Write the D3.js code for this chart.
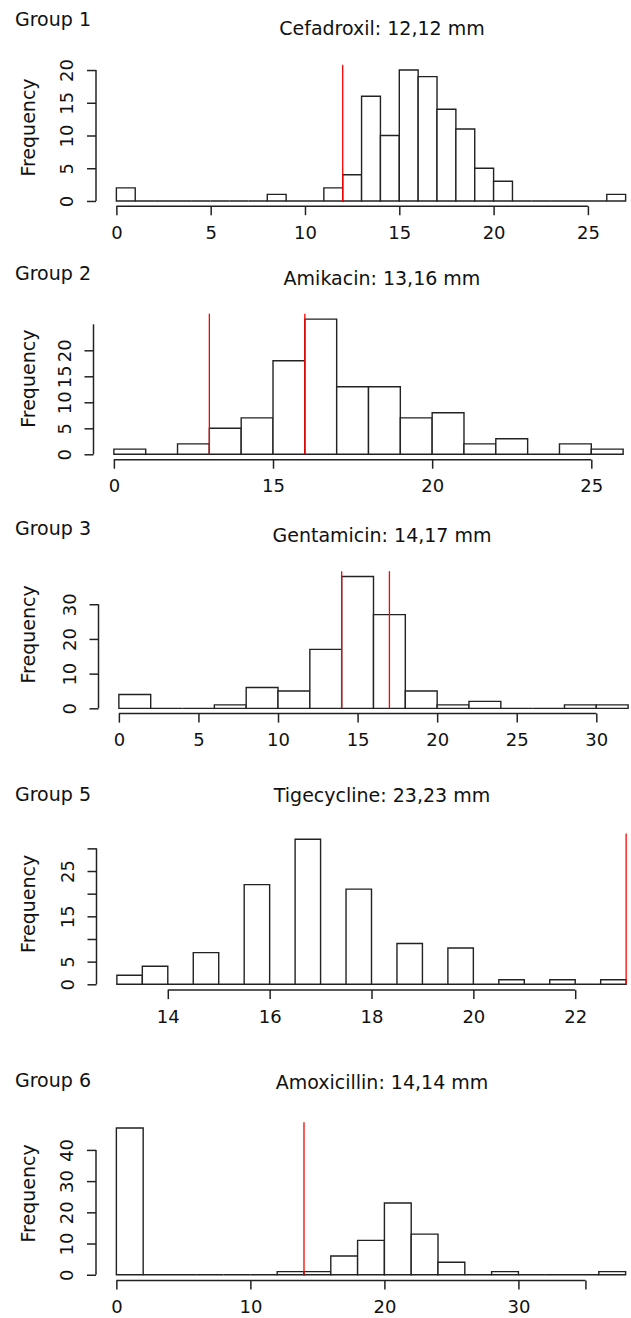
<!DOCTYPE html>
<html>
<head>
<meta charset="utf-8">
<script src="https://cdn.jsdelivr.net/npm/d3@7/dist/d3.min.js"></script>
<style>
  body { margin: 0; background: #fff; }
  svg text { font-family: "DejaVu Sans", sans-serif; fill: #111; }
</style>
</head>
<body>
<svg id="chart" width="631" height="1318"></svg>
<script>
// ---- data ----
const groupNames = ['Group 1', 'Group 2', 'Group 3', 'Group 5', 'Group 6']
const drugTitles = [
  'Cefadroxil: 12,12 mm',
  'Amikacin: 13,16 mm',
  'Gentamicin: 14,17 mm',
  'Tigecycline: 23,23 mm',
  'Amoxicillin: 14,14 mm',
]
const binStart = [0, 10, 0, 13, 0]
const binWidth = [1, 1, 2, 0.5, 2]

const countsCefadroxil = [2, 0, 0, 0, 0, 0, 0, 0, 1, 0, 0, 2, 4, 16, 10, 20, 19, 14, 11, 5, 3, 0, 0, 0, 0, 0, 1]
const countsAmikacin = [1, 0, 2, 5, 7, 18, 26, 13, 13, 7, 8, 2, 3, 0, 2, 1]
const countsGentamicin = [4, 0, 0, 1, 6, 5, 17, 38, 27, 5, 1, 2, 0, 0, 1, 1]
const countsTigecycline = [2, 4, 0, 7, 0, 22, 0, 32, 0, 21, 0, 9, 0, 8, 0, 1, 0, 1, 0, 1]
const countsAmoxicillin = [47, 0, 0, 0, 0, 0, 1, 1, 6, 11, 23, 13, 4, 0, 1, 0, 0, 0, 1]
const allCounts = [countsCefadroxil, countsAmikacin, countsGentamicin, countsTigecycline, countsAmoxicillin]

// breakpoints (red lines)
const cutoffs = [[12], [13, 16], [14, 17], [23], [14]]

// axis ticks and their labels
const xTicks = [
  [0, 5, 10, 15, 20, 25],
  [10, 15, 20, 25],
  [0, 5, 10, 15, 20, 25, 30],
  [14, 16, 18, 20, 22],
  [0, 10, 20, 30, 35],
]
const xTickLabels = [
  ['0', '5', '10', '15', '20', '25'],
  ['0', '15', '20', '25'],
  ['0', '5', '10', '15', '20', '25', '30'],
  ['14', '16', '18', '20', '22'],
  ['0', '10', '20', '30', ''],
]
const yTicks = [
  [0, 5, 10, 15, 20],
  [0, 5, 10, 15, 20],
  [0, 10, 20, 30],
  [0, 5, 10, 15, 20, 25, 30],
  [0, 10, 20, 30, 40],
]
const yTickLabels = [
  ['0', '5', '10', '15', '20'],
  ['0', '5', '10', '15', '20'],
  ['0', '10', '20', '30'],
  ['0', '5', '', '15', '', '25', ''],
  ['0', '10', '20', '30', '40'],
]
const yAxisEnd = [20, 25, 30, 30, 40]

// ---- layout ----
const plotLeft = [96, 93.5, 98.5, 96.5, 96]
const plotWidth = 550
const plotTop = [64.8, 313.7, 571.2, 833.5, 1122.2]
const plotBottom = [206.2, 459.7, 713.6, 990.1, 1280.6]
const groupBaseline = [26, 280, 535, 800.5, 1087]
const titleBaseline = [35, 285, 542, 802, 1089]
const titleX = 382
const FONT = 19
const TICK_FONT = 18
const TICK = 9
const INK = '#222'

const svg = d3.select('#chart')

function pad4(lo, hi) {
  const r = hi - lo
  return [lo - r * 0.04, hi + r * 0.04]
}

allCounts.forEach((counts, i) => {
  const bins = counts.map((c, k) => ({
    x0: binStart[i] + k * binWidth[i],
    x1: binStart[i] + (k + 1) * binWidth[i],
    count: c,
  }))
  const xMax = bins[bins.length - 1].x1

  const x = d3.scaleLinear()
    .domain(pad4(binStart[i], xMax))
    .range([plotLeft[i], plotLeft[i] + plotWidth])
  const y = d3.scaleLinear()
    .domain(pad4(0, d3.max(counts)))
    .range([plotBottom[i], plotTop[i]])

  const g = svg.append('g').attr('class', 'panel')

  // group label + title
  g.append('text')
    .attr('x', 15)
    .attr('y', groupBaseline[i])
    .attr('font-size', FONT)
    .text(groupNames[i])
  g.append('text')
    .attr('x', titleX)
    .attr('y', titleBaseline[i])
    .attr('text-anchor', 'middle')
    .attr('font-size', FONT)
    .text(drugTitles[i])

  // bars (paths so empty bins still show as baseline)
  g.append('g')
    .selectAll('path')
    .data(bins)
    .join('path')
    .attr('d', (d) => `M${x(d.x0)},${y(0)}V${y(d.count)}H${x(d.x1)}V${y(0)}Z`)
    .attr('fill', '#fff')
    .attr('stroke', INK)
    .attr('stroke-width', 1.4)

  // cutoff lines
  g.append('g')
    .selectAll('line')
    .data(cutoffs[i])
    .join('line')
    .attr('x1', (d) => x(d))
    .attr('x2', (d) => x(d))
    .attr('y1', y(0))
    .attr('y2', plotTop[i])
    .attr('stroke', '#f00')
    .attr('stroke-width', 1.3)

  // x axis
  const xt = xTicks[i]
  const xAxis = d3.axisBottom(x)
    .tickValues(xt)
    .tickSize(TICK)
    .tickSizeOuter(0)
    .tickFormat((d, k) => xTickLabels[i][k])
  const gx = g.append('g')
    .attr('transform', `translate(0, ${plotBottom[i]})`)
    .call(xAxis)
  gx.select('.domain').remove()
  gx.append('line')
    .attr('x1', x(xt[0]))
    .attr('x2', x(xt[xt.length - 1]))
  gx.selectAll('line').attr('stroke', INK).attr('stroke-width', 1.5)
  gx.selectAll('text')
    .attr('y', 32.5)
    .attr('dy', 0)
    .attr('font-size', TICK_FONT)
    .attr('font-family', 'DejaVu Sans')
    .attr('fill', '#111')

  // y axis
  const yAxis = d3.axisLeft(y)
    .tickValues(yTicks[i])
    .tickSize(TICK)
    .tickSizeOuter(0)
    .tickFormat((d, k) => yTickLabels[i][k])
  const gy = g.append('g')
    .attr('transform', `translate(${plotLeft[i]}, 0)`)
    .call(yAxis)
  gy.select('.domain').remove()
  gy.append('line')
    .attr('y1', y(0))
    .attr('y2', y(yAxisEnd[i]))
  gy.selectAll('line').attr('stroke', INK).attr('stroke-width', 1.5)
  gy.selectAll('text')
    .attr('x', 0)
    .attr('dy', 0)
    .attr('text-anchor', 'middle')
    .attr('transform', 'translate(-23, 0) rotate(-90)')
    .attr('font-size', TICK_FONT)
    .attr('font-family', 'DejaVu Sans')
    .attr('fill', '#111')

  g.append('text')
    .attr('transform', `translate(35, ${(plotTop[i] + plotBottom[i]) / 2 - 8}) rotate(-90)`)
    .attr('text-anchor', 'middle')
    .attr('font-size', FONT)
    .text('Frequency')
})
</script>
</body>
</html>
